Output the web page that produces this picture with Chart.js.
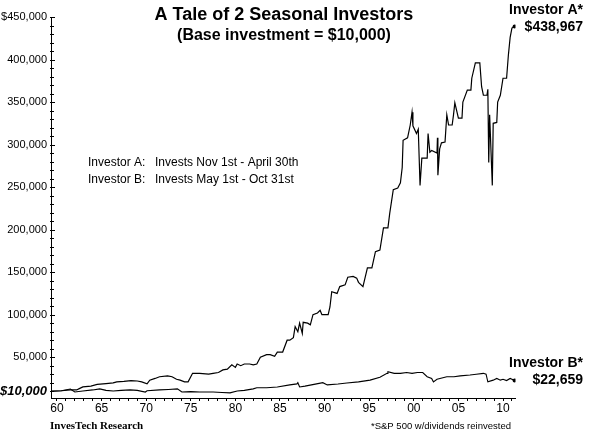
<!DOCTYPE html>
<html>
<head>
<meta charset="utf-8">
<script src="https://cdn.jsdelivr.net/npm/chart.js@4.4.1/dist/chart.umd.min.js"></script>
<style>
  body { margin: 0; background: #fff; }
  #wrap { width: 590px; height: 434px; position: relative; }
</style>
</head>
<body>
<div id="wrap"><canvas id="seasonalChart" width="590" height="434"></canvas></div>
<script>
// Investor A (Nov 1 - Apr 30), values in thousands of dollars
let aYears = [1959.4, 1960.5, 1961.5, 1962.2, 1962.5, 1962.9, 1963.8, 1964.5, 1965.5, 1966.3, 1966.7, 1967.5, 1968.3, 1969.0, 1969.5,
    1970.1, 1970.4, 1971.0, 1971.5, 1972.4, 1972.9, 1973.4, 1973.8, 1974.3, 1974.7, 1975.2, 1976.0, 1977.0, 1977.5, 1978.1,
    1978.6, 1979.1, 1979.6, 1980.0, 1980.2, 1980.6, 1981.0, 1981.6, 1982.0, 1982.4, 1982.8, 1983.5, 1983.9, 1984.4, 1984.7,
    1985.3, 1985.8, 1986.1, 1986.5, 1986.7, 1987.0, 1987.2, 1987.5, 1987.6, 1988.1, 1988.4, 1988.7, 1989.2, 1989.5, 1989.7,
    1990.4, 1990.6, 1990.8, 1991.4, 1991.7, 1992.3, 1992.6, 1993.2, 1993.6, 1993.8, 1994.3, 1994.8, 1995.3, 1995.7, 1996.2,
    1996.6, 1997.1, 1997.3, 1997.7, 1998.2, 1998.5, 1998.7, 1998.8, 1999.3, 1999.6, 1999.8, 1999.9, 2000.3, 2000.5, 2000.7,
    2000.9, 2001.5, 2001.6, 2001.8, 2002.0, 2002.6, 2002.65, 2002.7, 2002.9, 2003.1, 2003.5, 2003.7, 2003.9, 2004.3, 2004.45,
    2004.6, 2005.0, 2005.4, 2005.5, 2006.0, 2006.4, 2006.5, 2006.9, 2007.4, 2007.6, 2007.8, 2008.2, 2008.3, 2008.4, 2008.5,
    2008.8, 2008.9, 2009.3, 2009.4, 2009.7, 2010.0, 2010.4, 2010.6, 2010.8, 2011.0, 2011.3];
let aValues = [10, 10.5, 11.5, 11.5, 13, 15, 16, 18, 19, 19.7, 21, 21.5, 22.5, 22, 21,
    18.6, 23, 25, 27, 28, 27, 24, 23, 21, 21, 31, 31, 30, 31, 32,
    35, 36, 41, 38, 42, 40, 42, 42, 41, 42, 50, 53, 53, 51, 56,
    56, 70, 70, 73, 86, 80, 90, 78, 91, 90, 88, 100, 102, 105, 100,
    100, 109, 127, 125, 133, 135, 144, 145, 143, 138, 133, 155, 155, 174, 176,
    202, 202, 219, 247, 249, 255, 273, 305, 308, 323, 338, 322, 313, 318, 252,
    284, 284, 313, 291, 293, 290, 308, 264, 295, 302, 303, 335, 323, 323, 335,
    349, 331, 331, 350, 364, 364, 378, 396, 396, 368, 358, 358, 365, 279, 335,
    252, 325, 326, 350, 358, 378, 378, 405, 426, 437, 438.967];

// Investor B (May 1 - Oct 31)
let bYears = [1959.4, 1960.5, 1961.5, 1962.0, 1962.9, 1964.0, 1964.8, 1965.5, 1966.3, 1967.2, 1968.2, 1969.0, 1969.9, 1970.1, 1971.5,
    1972.5, 1973.5, 1974.0, 1975.0, 1976.0, 1977.5, 1978.5, 1979.4, 1980.2, 1981.0, 1982.0, 1982.4, 1983.5, 1984.7, 1986.1,
    1986.9, 1987.0, 1987.2, 1987.8, 1989.1, 1989.8, 1990.3, 1991.5, 1992.5, 1993.8, 1995.1, 1996.2, 1997.0, 1997.1, 1997.8,
    1998.5, 1999.2, 1999.8, 2000.4, 2001.0, 2001.5, 2002.0, 2002.2, 2002.6, 2003.7, 2004.5, 2005.2, 2006.3, 2007.0, 2007.8,
    2008.1, 2008.3, 2008.9, 2009.3, 2009.7, 2010.0, 2010.4, 2010.8, 2011.3];
let bValues = [10, 10.5, 12.5, 9, 10.3, 11.5, 12.7, 11, 10.3, 11, 11.5, 11, 9, 10.5, 11.5,
    12, 12.7, 9, 9.5, 9, 9, 8.5, 8, 10.3, 11, 12.7, 14, 14, 15, 17.4,
    18.6, 20, 15, 16, 18.6, 20, 17.4, 18.5, 19.7, 21, 23, 26.5, 31, 33, 31,
    31, 32, 31, 32, 32, 27, 25, 21, 24, 27, 27, 28, 29, 30, 31,
    30, 21, 23, 25, 23, 24, 22.5, 25, 22.659];

let xLabelYears = [1960, 1965, 1970, 1975, 1980, 1985, 1990, 1995, 2000, 2005, 2010];
let yLabelValues = [50000, 100000, 150000, 200000, 250000, 300000, 350000, 400000, 450000];

let sans = "'Liberation Sans', Arial, sans-serif";

function toPoints(years, values){
    let pts = [];
    for(let i = 0; i < years.length; i++){
        pts.push({x: years[i], y: values[i] * 1000});
    }
    return pts;
}

function money(v){
    return '$' + Math.round(v).toLocaleString('en-US');
}

let textPlugin = {
    id: 'textPlugin',
    afterDraw(chart){
        let ctx = chart.ctx;
        let ys = chart.scales.y;
        let area = chart.chartArea;
        ctx.save();
        ctx.fillStyle = '#000';
        ctx.strokeStyle = '#000';

        // y ticks point into the plot
        ctx.lineWidth = 1;
        for(let v = 10000; v <= 450000; v += 10000){
            let py = Math.round(ys.getPixelForValue(v)) + 0.5;
            let len = v % 50000 === 0 ? 4 : 3;
            ctx.beginPath();
            ctx.moveTo(area.left - 1, py);
            ctx.lineTo(area.left + len, py);
            ctx.stroke();
        }

        ctx.textBaseline = 'middle';
        ctx.textAlign = 'center';
        ctx.font = 'bold 18px ' + sans;
        ctx.fillText('A Tale of 2 Seasonal Investors', 284, 15);
        ctx.font = 'bold 16px ' + sans;
        ctx.fillText('(Base investment = $10,000)', 284, 36);

        ctx.textAlign = 'left';
        ctx.font = '12px ' + sans;
        ctx.fillText('Investor A:', 88, 163);
        ctx.fillText('Invests Nov 1st - April 30th', 155, 163);
        ctx.fillText('Investor B:', 88, 180);
        ctx.fillText('Invests May 1st - Oct 31st', 155, 180);

        ctx.font = 'bold italic 13px ' + sans;
        ctx.fillText('$10,000', 0, ys.getPixelForValue(10000));

        // end labels next to the last points
        let aEnd = aValues[aValues.length - 1] * 1000;
        let bEnd = bValues[bValues.length - 1] * 1000;
        let ay = ys.getPixelForValue(aEnd);
        let by = ys.getPixelForValue(bEnd);
        ctx.textAlign = 'right';
        ctx.font = 'bold 14px ' + sans;
        ctx.fillText('Investor A*', 583, ay - 16);
        ctx.fillText(money(aEnd), 583, ay + 1);
        ctx.fillText('Investor B*', 583, by - 17);
        ctx.fillText(money(bEnd), 583, by);

        ctx.textAlign = 'left';
        ctx.font = "bold 11px 'Liberation Serif', 'Times New Roman', serif";
        ctx.fillText('InvesTech Research', 50, 426);
        ctx.font = '9.5px ' + sans;
        ctx.fillText('*S&P 500 w/dividends reinvested', 371, 426);
        ctx.restore();
    }
};

let ctx = document.getElementById('seasonalChart');
new Chart(ctx, {
    type: 'line',
    data: {
        datasets: [{
            label: 'Investor A',
            data: toPoints(aYears, aValues),
            borderColor: '#000',
            borderWidth: 1.2,
            pointRadius: function(c){ return c.dataIndex === aYears.length - 1 ? 2 : 0; },
            pointBackgroundColor: '#000',
            pointBorderWidth: 0,
            tension: 0
        }, {
            label: 'Investor B',
            data: toPoints(bYears, bValues),
            borderColor: '#000',
            borderWidth: 1.1,
            pointRadius: function(c){ return c.dataIndex === bYears.length - 1 ? 2 : 0; },
            pointBackgroundColor: '#000',
            pointBorderWidth: 0,
            tension: 0
        }]
    },
    options: {
        responsive: false,
        animation: false,
        layout: { padding: { left: 0, right: 74.5, top: 17, bottom: 0 } },
        plugins: {
            legend: { display: false },
            tooltip: { enabled: false },
            title: { display: false }
        },
        scales: {
            x: {
                type: 'linear',
                min: 1959.33,
                max: 2011.4,
                afterBuildTicks: function(scale){
                    let t = [];
                    for(let yr = 1960; yr <= 2011; yr++){ t.push({value: yr}); }
                    scale.ticks = t;
                },
                afterFit: function(scale){ scale.height = 36; },
                border: { display: true, color: '#000', width: 1 },
                grid: { drawOnChartArea: false, drawTicks: true, tickLength: 3, tickColor: '#000' },
                ticks: {
                    autoSkip: false,
                    maxRotation: 0,
                    padding: 0,
                    color: '#000',
                    font: { family: sans, size: 12 },
                    callback: function(value){
                        if(xLabelYears.indexOf(value) < 0) return '';
                        return String(value % 100).padStart(2, '0');
                    }
                }
            },
            y: {
                min: 2000,
                max: 450000,
                afterBuildTicks: function(scale){
                    scale.ticks = yLabelValues.map(v => ({value: v}));
                },
                afterFit: function(scale){ scale.width = 51; },
                border: { display: true, color: '#000', width: 1 },
                grid: { drawOnChartArea: false, drawTicks: false },
                ticks: {
                    padding: 4,
                    color: '#000',
                    font: { family: sans, size: 11 },
                    callback: function(value){
                        let s = value.toLocaleString('en-US');
                        return value === 450000 ? '$' + s : s;
                    }
                }
            }
        }
    },
    plugins: [textPlugin]
});
</script>
</body>
</html>
